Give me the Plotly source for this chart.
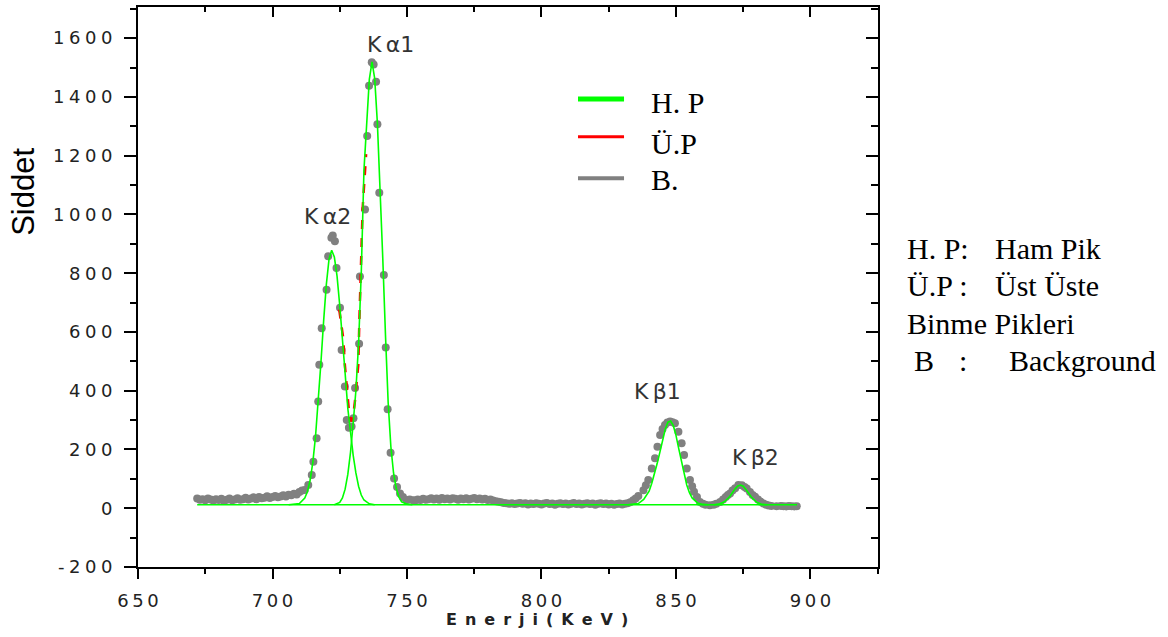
import plotly.graph_objects as go

# ---------------- data ----------------
raw_energy = [672, 673, 674, 675, 676, 677, 678, 679, 680, 681, 682, 683, 684, 685, 686, 687, 688, 689,
              690, 691, 692, 693, 694, 695, 696, 697, 698, 699, 700, 701, 702, 703, 704, 705, 706, 707,
              708, 709, 710, 711, 712, 713.3, 714.6, 715.2, 716.4, 717.0, 717.4, 718.3, 720.1, 720.7,
              721.9, 722.4, 723.2, 723.8, 725.1, 725.7, 726.9, 727.6, 728.4, 729.4, 730.1, 730.7, 732.2,
              732.5, 734.4, 735.2, 735.9, 736.9, 737.6, 738.5, 739.0, 739.7, 741.4, 742.1, 742.8, 743.9,
              745.2, 746.3, 747.4, 748.5, 749.9, 751, 752.3,
              753, 754, 755, 756, 757, 758, 759, 760, 761, 762, 763, 764, 765, 766, 767, 768, 769, 770,
              771, 772, 773, 774, 775, 776, 777, 778, 779, 780, 781, 782, 783, 784, 785, 786, 787, 788,
              789, 790, 791, 792, 793, 794, 795, 796, 797, 798, 799, 800, 801, 802, 803, 804, 805, 806,
              807, 808, 809, 810, 811, 812, 813, 814, 815, 816, 817, 818, 819, 820, 821, 822, 823, 824,
              825, 826, 827, 828, 829, 830, 831, 832, 833,
              834.1, 835, 836, 837.9, 838.8, 839.7, 841.0, 842.2, 843.1, 844.1, 845.0, 845.9, 846.8,
              847.8, 848.7, 849.6, 850.9, 852.1, 853.0, 854.0, 855.2, 856.0, 856.7, 857.8, 858.9, 860,
              861, 862.6, 864, 865, 866.4, 867.5, 868.5, 869.3, 870.1, 871, 872, 873.2, 874.5, 875.5,
              876.3, 877.5, 878.5, 879.4, 880.5, 881.5, 882.5, 883.5, 884.5, 885.5, 887.4, 889, 890,
              891, 892, 893, 894, 894.9]
raw_counts = [33, 29, 31, 27, 33, 30, 26, 31, 28, 32, 25, 29, 33, 27, 30, 34, 29, 31,
              36, 30, 33, 37, 31, 38, 34, 36, 41, 35, 38, 42, 37, 40, 44, 40, 46, 44,
              49, 47, 55, 60, 62, 79, 113, 158, 238, 363, 488, 613, 744, 858,
              921, 928, 909, 818, 682, 539, 414, 300, 274, 278, 306, 409, 560,
              789, 1017, 1267, 1438, 1518, 1510, 1452, 1307, 1074, 794, 547, 337, 189,
              101, 72, 50, 38, 28, 30, 27,
              26, 30, 28, 32, 29, 31, 34, 30, 33, 29, 35, 31, 33, 30, 34, 32, 29, 33,
              31, 34, 30, 32, 35, 31, 33, 30, 32, 28, 30, 26, 24, 22, 20, 18, 17, 15,
              17, 14, 16, 18, 15, 17, 13, 16, 14, 17, 15, 13, 16, 18, 14, 16, 12, 15,
              17, 14, 16, 13, 15, 18, 14, 16, 13, 15, 17, 14, 16, 12, 15, 17, 14, 16,
              13, 15, 12, 14, 16, 13, 15, 17, 20,
              27, 33, 42, 61, 78, 96, 135, 170, 209, 249, 270, 283, 292,
              295, 293, 289, 260, 221, 181, 135, 96, 75, 56, 38, 21, 15,
              12, 10, 12, 15, 21, 30, 38, 45, 50, 60, 68, 79, 78, 72,
              67, 55, 45, 39, 30, 22, 16, 12, 9, 8, 7, 8, 7,
              6, 8, 7, 6, 7]

baseline_energy = [672, 895]
baseline_counts = [12, 12]

ka2_energy = [706, 708, 710, 712, 713, 714, 715, 716, 717, 718, 719, 720, 721, 722, 723, 724, 725,
              726, 727, 728, 729, 730, 731, 732, 733, 734, 736, 738]
ka2_counts = [12, 13, 16, 35, 57, 96, 157, 245, 360, 495, 636, 760, 847, 878, 855, 790, 690,
              585, 460, 340, 255, 180, 120, 75, 45, 28, 15, 12]

ka1_energy = [723, 725, 726, 727, 728, 729, 730, 731, 732, 733, 734, 735, 736, 737, 738, 739, 740,
              741, 742, 743, 744, 745, 746, 747, 748, 750, 752]
ka1_counts = [12, 20, 35, 65, 115, 190, 290, 400, 560, 800, 1150, 1330, 1460, 1519, 1462, 1310, 1100,
              850, 590, 360, 210, 120, 68, 38, 22, 14, 12]

kb1_energy = [832, 834, 836, 838, 839, 840, 841, 842, 843, 844, 845, 846, 847, 848, 849, 850, 851,
              852, 853, 854, 855, 856, 858, 860, 862]
kb1_counts = [12, 13, 16, 30, 42, 58, 85, 115, 152, 190, 232, 269, 293, 297, 281, 248, 204,
              158, 115, 79, 53, 35, 18, 13, 12]

kb2_energy = [864, 866, 868, 870, 872, 873, 874, 875, 876, 878, 880, 882, 884]
kb2_counts = [12, 14, 22, 40, 66, 76, 79, 75, 64, 38, 20, 13, 12]

overlap_energy = [724.8, 726.3, 726.9, 727.8, 728.5, 729.2, 730.0, 730.7, 731.9, 732.3, 732.9, 733.5, 734.8]
overlap_counts = [676, 579, 488, 391, 323, 295, 312, 369, 488, 642, 818, 1019, 1205]

x_ticks = [650, 700, 750, 800, 850, 900]
y_ticks = [-200, 0, 200, 400, 600, 800, 1000, 1200, 1400, 1600]
x_minor = [675, 725, 775, 825, 875, 925]
y_minor = [-100, 100, 300, 500, 700, 900, 1100, 1300, 1500, 1700]

peak_names = ["K\u2009α1", "K\u2009α2", "K\u2009β1", "K\u2009β2"]
peak_label_x = [743.7, 720.3, 843.0, 879.4]
peak_label_y = [1580, 993, 396, 174]

legend_names = ["H. P", "Ü.P", "B."]
legend_colors = ["#00ff00", "#ff0000", "#808080"]

# ---------------- figure ----------------
TS = "\u2009"
ES = "\u2005"
EN = "\u2002"


def spaced(s, sep=TS):
    return sep.join(list(s))


GREEN = "#00ff00"
fig = go.Figure()
fig.add_trace(go.Scatter(x=raw_energy, y=raw_counts, mode="markers",
                         marker=dict(color="#808080", size=8, symbol="circle"),
                         showlegend=False))
fig.add_trace(go.Scatter(x=overlap_energy, y=overlap_counts, mode="lines",
                         line=dict(color="#ff0000", width=2.5, dash="dash"), showlegend=False))
for ex, cy in [(baseline_energy, baseline_counts), (ka2_energy, ka2_counts),
               (ka1_energy, ka1_counts), (kb1_energy, kb1_counts), (kb2_energy, kb2_counts)]:
    fig.add_trace(go.Scatter(x=ex, y=cy, mode="lines",
                             line=dict(color=GREEN, width=1.6), showlegend=False))
# dummy trace for the mirrored (inside-tick) top/right axes
fig.add_trace(go.Scatter(x=[None], y=[None], xaxis="x2", yaxis="y2", showlegend=False,
                         hoverinfo="skip"))

XR = [650, 925.1]
YR = [-200, 1706]
tickfont = dict(family="DejaVu Sans", size=18, color="#222222")

fig.update_layout(
    width=1168, height=637,
    margin=dict(l=138, r=290, t=7, b=70),
    paper_bgcolor="white", plot_bgcolor="white",
    showlegend=False,
    xaxis=dict(range=XR, showgrid=False, zeroline=False, showline=True, linecolor="black",
               linewidth=2, ticks="outside", ticklen=10, tickwidth=2, tickcolor="black",
               tickmode="array", tickvals=x_ticks, ticktext=[spaced(str(v)) for v in x_ticks],
               tickfont=tickfont, ticklabelstandoff=6,
               minor=dict(tickmode="array", tickvals=x_minor, ticks="outside", ticklen=5,
                          tickwidth=2, tickcolor="black")),
    yaxis=dict(range=YR, showgrid=False, zeroline=False, showline=True, linecolor="black",
               linewidth=2, ticks="outside", ticklen=12, tickwidth=2, tickcolor="black",
               tickmode="array", tickvals=y_ticks, ticktext=[spaced(str(v), ES) for v in y_ticks],
               tickfont=tickfont, ticklabelstandoff=8,
               minor=dict(tickmode="array", tickvals=y_minor, ticks="outside", ticklen=6,
                          tickwidth=2, tickcolor="black")),
    xaxis2=dict(range=XR, overlaying="x", side="top", anchor="y2", showgrid=False,
                zeroline=False, showline=True, linecolor="black", linewidth=2,
                ticks="inside", ticklen=10, tickwidth=2, tickcolor="black",
                tickmode="array", tickvals=x_ticks, showticklabels=False,
                minor=dict(tickmode="array", tickvals=x_minor, ticks="inside", ticklen=5,
                           tickwidth=2, tickcolor="black")),
    yaxis2=dict(range=YR, overlaying="y", side="right", anchor="x2", showgrid=False,
                zeroline=False, showline=True, linecolor="black", linewidth=2,
                ticks="inside", ticklen=12, tickwidth=2, tickcolor="black",
                tickmode="array", tickvals=y_ticks, showticklabels=False,
                minor=dict(tickmode="array", tickvals=y_minor, ticks="inside", ticklen=7,
                           tickwidth=2, tickcolor="black")),
)

ann = []
# axis titles
ann.append(dict(text="Siddet", xref="paper", yref="paper", x=-0.154, y=0.67, textangle=-90,
                showarrow=False, font=dict(family="Liberation Sans", size=31, color="black"),
                xanchor="center", yanchor="middle"))
ann.append(dict(text="<b>" + spaced("Enerji(KeV)", EN) + "</b>", xref="paper", yref="paper",
                x=0.539, y=-0.094, showarrow=False,
                font=dict(family="DejaVu Sans", size=16, color="#222222"),
                xanchor="center", yanchor="middle"))
# peak labels
for name, px, py in zip(peak_names, peak_label_x, peak_label_y):
    ann.append(dict(text=name, x=px, y=py, xref="x", yref="y", showarrow=False,
                    font=dict(family="DejaVu Sans", size=22, color="#333333"),
                    xanchor="center", yanchor="middle"))

# manual legend
leg_line_y = [0.8357, 0.7684, 0.6941]
leg_line_w = [5, 3, 4]
leg_text_y = [0.8286, 0.7554, 0.6920]
shapes = []
for name, col, ly, lw, ty in zip(legend_names, legend_colors, leg_line_y, leg_line_w, leg_text_y):
    shapes.append(dict(type="line", xref="paper", yref="paper", x0=0.5946, x1=0.6568,
                       y0=ly, y1=ly, line=dict(color=col, width=lw)))
    ann.append(dict(text=name, xref="paper", yref="paper", x=0.6905, y=ty, showarrow=False,
                    font=dict(family="Liberation Serif", size=30, color="black"),
                    xanchor="left", yanchor="middle"))

# side note text
serif = dict(family="Liberation Serif", size=30, color="black")
note = [("H. P:", 1.0365, 0.5696), ("Ham Pik", 1.1554, 0.5696),
        ("Ü.P :", 1.0365, 0.5018), ("Üst Üste", 1.1554, 0.5018),
        ("Binme Pikleri", 1.0365, 0.4357),
        ("B", 1.0459, 0.3696), (":", 1.1068, 0.3696), ("Background", 1.1743, 0.3696)]
for t, x, y in note:
    ann.append(dict(text=t, xref="paper", yref="paper", x=x, y=y, showarrow=False, font=serif,
                    xanchor="left", yanchor="middle"))

fig.update_layout(annotations=ann, shapes=shapes)
fig.write_html("out.html")
